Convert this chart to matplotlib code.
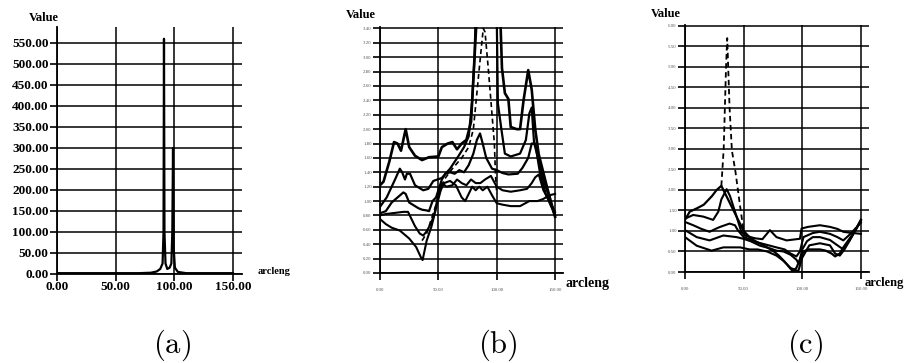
import matplotlib
matplotlib.use("Agg")
import matplotlib.pyplot as plt
import numpy as np

plt.rcParams['mathtext.fontset'] = 'cm'
plt.rcParams['font.family'] = ['Liberation Serif', 'DejaVu Serif']

# ---------------- data ----------------
# panel (a)
a_x = [0, 0.5, 10, 30, 50, 70, 80, 85, 88, 90, 90.8, 91.2, 91.6, 92.5, 94, 96, 97.5, 98.3, 98.9, 99.5, 100.5, 103, 110, 130, 150]
a_y = [3, 2, 2, 2, 2, 2, 3, 6, 12, 25, 100, 560, 100, 25, 12, 15, 25, 100, 300, 60, 15, 5, 2, 2, 2]

# panel (b)
bA_x = [0, 3, 8, 12, 15, 18, 20, 22, 25, 30, 36, 42, 50, 53, 58, 62, 66, 70, 74, 78, 80, 83, 90, 98, 103, 104.5, 107, 110, 112, 117, 120, 123, 127, 130, 133, 136, 143, 150]
bA_y = [1.22, 1.27, 1.55, 1.82, 1.80, 1.70, 1.85, 2.00, 1.75, 1.63, 1.57, 1.61, 1.62, 1.75, 1.80, 1.82, 1.72, 1.80, 1.85, 2.1, 2.7, 3.6, 4.5, 4.5, 3.6, 2.85, 2.5, 2.42, 2.03, 2.0, 2.0, 2.4, 2.82, 2.55, 2.0, 1.65, 1.2, 0.78]
bB_x = [0, 5.7, 12.9, 17, 19, 21.4, 23, 25.7, 30, 37, 41.4, 45.7, 52.9, 60, 67, 72, 76, 79, 81, 82, 92, 100, 101, 104, 107, 112, 120, 125, 128, 130, 132, 136, 140, 150]
bB_y = [0.92, 1.05, 1.30, 1.45, 1.40, 1.30, 1.38, 1.38, 1.22, 1.15, 1.17, 1.28, 1.32, 1.45, 1.62, 1.75, 1.90, 2.40, 3.0, 3.6, 4.5, 3.6, 2.36, 2.0, 1.66, 1.62, 1.66, 1.85, 2.22, 2.30, 1.81, 1.57, 1.30, 0.80]
bC_x = [0, 5, 10, 15, 20, 22, 25, 28, 33, 36, 40, 42, 45, 48, 50, 53, 56, 60, 64, 68, 72, 76, 80, 83, 85.7, 88, 91, 96, 100, 105, 110, 118, 122, 127, 130, 133, 137, 142, 150]
bC_y = [0.83, 0.86, 0.98, 1.05, 1.12, 1.10, 0.98, 0.95, 0.90, 0.88, 0.87, 0.86, 1.00, 1.05, 1.15, 1.30, 1.38, 1.40, 1.38, 1.43, 1.40, 1.50, 1.66, 1.85, 1.94, 1.80, 1.60, 1.45, 1.43, 1.39, 1.37, 1.38, 1.46, 1.60, 1.80, 1.80, 1.40, 1.10, 0.80]
bD_x = [0, 5, 10, 15, 20, 24, 27, 30, 34, 37, 40, 44, 47, 50, 53, 57, 62, 66, 70, 74, 78, 82, 86, 90, 95, 100, 105, 112, 120, 126, 130, 133, 136, 140, 145, 150]
bD_y = [0.80, 0.82, 0.83, 0.84, 0.85, 0.85, 0.75, 0.65, 0.55, 0.52, 0.58, 0.70, 0.85, 1.10, 1.25, 1.20, 1.22, 1.30, 1.25, 1.22, 1.30, 1.25, 1.25, 1.30, 1.35, 1.20, 1.15, 1.13, 1.15, 1.17, 1.25, 1.33, 1.37, 1.15, 1.00, 0.85]
bE_x = [0, 5, 10, 17, 25, 31, 35, 36.5, 40, 44, 49, 52, 55, 60, 65, 70, 73, 76, 79, 82, 85, 88, 92, 96, 100, 105, 112, 120, 128, 135, 140, 145, 150]
bE_y = [0.75, 0.68, 0.63, 0.59, 0.48, 0.36, 0.22, 0.18, 0.45, 0.64, 0.96, 1.15, 1.25, 1.28, 1.22, 1.05, 1.00, 1.10, 1.20, 1.15, 1.20, 1.15, 1.20, 1.08, 0.97, 0.95, 0.93, 0.93, 1.00, 1.00, 1.03, 1.08, 1.10]
bF_x = [36, 40, 45, 50, 55, 62, 70, 76, 80, 83, 86, 88.5, 90, 93, 96, 98, 99, 100]
bF_y = [0.45, 0.55, 0.80, 1.05, 1.30, 1.45, 1.60, 1.75, 2.00, 2.50, 3.00, 3.40, 3.35, 2.80, 2.20, 1.80, 1.35, 1.10]

# panel (c)
c1_x = [0, 4, 10, 16, 23, 27, 31, 50, 55, 60, 65, 70, 75, 80, 85, 90, 92, 95, 98, 101, 105, 110, 115, 120, 125, 128, 132, 135, 140, 145, 150]
c1_y = [1.27, 1.47, 1.55, 1.64, 1.85, 2.00, 2.10, 1.00, 0.85, 0.75, 0.68, 0.60, 0.52, 0.40, 0.25, 0.08, 0.02, 0.10, 0.30, 0.50, 0.55, 0.55, 0.55, 0.52, 0.45, 0.38, 0.45, 0.60, 0.80, 1.00, 1.27]
cD_x = [31, 33, 35, 36, 38, 40, 43, 47, 50]
cD_y = [2.10, 3.00, 5.00, 5.70, 4.00, 2.96, 2.45, 1.60, 1.00]
c2_x = [0, 7, 15.6, 24, 28.4, 31, 35.5, 38.4, 44, 48, 52, 56, 60, 66, 72.4, 78, 86.6, 98, 99.4, 105, 115, 123.6, 130, 135, 140, 150]
c2_y = [1.30, 1.39, 1.35, 1.27, 1.47, 1.77, 2.02, 1.85, 1.35, 0.98, 0.88, 0.85, 0.82, 0.80, 1.02, 0.85, 0.77, 0.81, 1.06, 1.10, 1.14, 1.10, 1.05, 0.98, 0.96, 0.93]
c3_x = [0, 7, 14, 21, 26, 30, 38, 42.6, 45, 50, 55, 62, 70, 78, 85, 90, 95, 98, 101, 109, 115, 123.6, 130, 135, 140, 145, 150]
c3_y = [1.22, 1.14, 1.05, 0.98, 1.05, 1.10, 1.18, 1.14, 1.02, 0.85, 0.80, 0.72, 0.66, 0.60, 0.55, 0.45, 0.38, 0.50, 0.85, 0.95, 0.98, 0.93, 0.85, 0.77, 0.90, 1.05, 1.20]
c4_x = [0, 10, 21, 32.7, 44, 49.7, 56, 64, 72, 78, 84, 90, 95, 97, 100, 104, 109, 115, 123.6, 130, 135, 140, 145, 150]
c4_y = [1.02, 0.85, 0.77, 0.89, 0.85, 0.81, 0.75, 0.64, 0.58, 0.52, 0.50, 0.42, 0.30, 0.20, 0.55, 0.75, 0.85, 0.85, 0.78, 0.65, 0.55, 0.75, 1.00, 1.25]
c5_x = [0, 10, 22.7, 32.7, 47, 55, 62, 70, 78, 84, 90, 96.6, 100, 106, 115, 123.6, 128, 132, 136, 142, 150]
c5_y = [0.85, 0.64, 0.52, 0.60, 0.60, 0.55, 0.55, 0.50, 0.40, 0.27, 0.10, 0.02, 0.35, 0.65, 0.70, 0.65, 0.45, 0.40, 0.55, 0.85, 1.27]

a_xticks = [0, 50, 100, 150]
a_yticks = list(range(0, 551, 50))
b_yticks = [round(0.2 * i, 2) for i in range(18)]
c_yticks = [round(0.5 * i, 2) for i in range(13)]

# ---------------- figure ----------------
W, H = 907, 363
fig = plt.figure(figsize=(W / 100, H / 100), dpi=100)

def px_axes(l, r, t, b):
    return fig.add_axes([l / W, (H - b) / H, (r - l) / W, (b - t) / H])

def style(ax, xmax, ymax, yticks, fs, bold, lab_color, ylab_pos, xlab_pos, xlab_fs, xlab_bold=True):
    ax.set_xlim(0, xmax)
    ax.set_ylim(0, ymax)
    for s in ['top', 'right']:
        ax.spines[s].set_visible(False)
    for s in ['left', 'bottom']:
        ax.spines[s].set_linewidth(1.3)
        ax.spines[s].set_color('black')
    ax.set_xticks(a_xticks)
    ax.set_yticks(yticks)
    ax.grid(True, color='black', linewidth=1.1)
    ax.set_axisbelow(True)
    ax.tick_params(axis='both', direction='out', length=5, width=1.2, color='black', pad=1,
                   labelsize=fs, labelcolor=lab_color)
    fig.text(ylab_pos[0] / W, 1 - ylab_pos[1] / H, 'Value', ha='center', va='center',
             fontsize=9, fontweight='bold')
    fig.text(xlab_pos[0] / W, 1 - xlab_pos[1] / H, 'arcleng', ha='left', va='center',
             fontsize=xlab_fs, fontweight='bold' if xlab_bold else 'normal')

# (a)
axa = px_axes(57, 242, 27, 274)
axa.plot(a_x, a_y, color='black', lw=1.6)
style(axa, 157.7, 588, a_yticks, 9.5, True, 'black', (44, 18), (258, 271), 7.5)
axa.set_xticklabels(['%.2f' % v for v in a_xticks])
axa.set_yticklabels(['%.2f' % v for v in a_yticks])
for t in axa.get_xticklabels() + axa.get_yticklabels():
    t.set_fontweight('bold')
axa.tick_params(axis='x', pad=0)

# (b)
axb = px_axes(380, 563, 27, 273)
for xs, ys, lw in [(bA_x, bA_y, 1.9), (bB_x, bB_y, 1.6), (bC_x, bC_y, 1.6), (bD_x, bD_y, 1.5), (bE_x, bE_y, 1.5)]:
    axb.plot(xs, ys, color='black', lw=lw, solid_joinstyle='round')
axb.plot(bF_x, bF_y, color='black', lw=1.2, ls=(0, (3, 2)))
style(axb, 156.8, 3.42, b_yticks, 3.5, False, '#555555', (361, 15), (565, 283), 10)
axb.set_xticklabels(['%.2f' % v for v in a_xticks])
axb.set_yticklabels(['%.2f' % v for v in b_yticks])
axb.tick_params(axis='x', pad=6)

# (c)
axc = px_axes(685, 869, 25, 272)
for xs, ys, lw in [(c1_x, c1_y, 1.6), (c2_x, c2_y, 1.5), (c3_x, c3_y, 1.5), (c4_x, c4_y, 1.5), (c5_x, c5_y, 1.5)]:
    axc.plot(xs, ys, color='black', lw=lw, solid_joinstyle='round')
axc.plot(cD_x, cD_y, color='black', lw=1.3, ls=(0, (3, 2)))
style(axc, 156.9, 6.02, c_yticks, 3.5, False, '#555555', (666, 14), (865, 283), 9)
axc.set_xticklabels(['%.2f' % v for v in a_xticks])
axc.set_yticklabels(['%.2f' % v for v in c_yticks])
axc.tick_params(axis='x', pad=6)

# captions
for lab, cx in [('a', 172), ('b', 498), ('c', 805)]:
    fig.text(cx / W, 1 - 345 / H, r'$(\mathrm{%s})$' % lab, ha='center', va='center', fontsize=22)

fig.savefig('out.png', dpi=100, facecolor='white')
